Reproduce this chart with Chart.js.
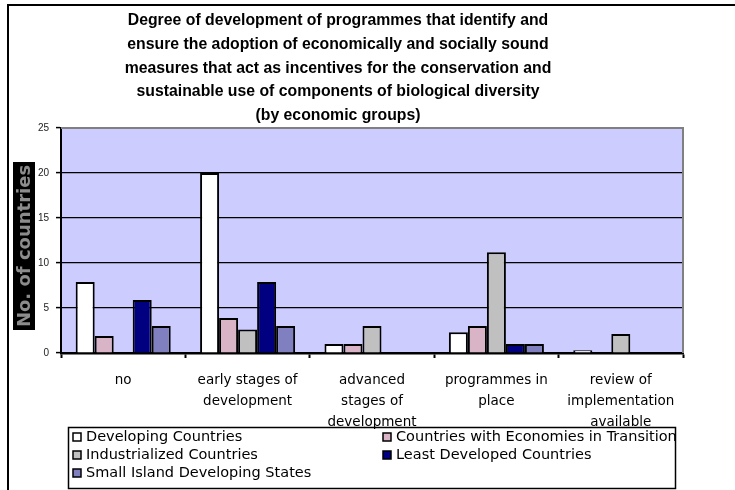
<!DOCTYPE html>
<html>
<head>
<meta charset="utf-8">
<script src="https://cdn.jsdelivr.net/npm/chart.js@4.4.1/dist/chart.umd.min.js"></script>
<style>
  html, body { margin: 0; padding: 0; background: #fff; }
  #wrap { width: 735px; height: 490px; position: relative; }
</style>
</head>
<body>
<div id="wrap"><canvas id="chart"></canvas></div>
<script>
// Stages of programme development (multi-line axis labels)
const categories = [
  ["no"],
  ["early stages of", "development"],
  ["advanced", "stages of", "development"],
  ["programmes in", "place"],
  ["review of", "implementation", "available"]
];

const seriesNames = [
  "Developing Countries",
  "Countries with Economies in Transition",
  "Industrialized Countries",
  "Least Developed Countries",
  "Small Island Developing States"
];

// Number of countries per economic group
const developing     = [7.9, 20, 1, 2.3, 0.3];
const transition     = [1.9, 3.9, 1, 3.0, 0];
const industrialized = [0, 2.6, 3.0, 11.2, 2.1];
const leastDeveloped = [5.9, 7.9, 0, 1.0, 0];
const smallIsland    = [3.0, 3.0, 0, 1.0, 0];

const yTicks = [0, 5, 10, 15, 20, 25];

const titleLines = [
  "Degree of development of programmes that identify and",
  "ensure the adoption of economically and socially sound",
  "measures that act as incentives for the conservation and",
  "sustainable use of components of biological diversity",
  "(by economic groups)"
];
const yTitle = "No. of countries";

const seriesValues = [developing, transition, industrialized, leastDeveloped, smallIsland];
const seriesColors = ["#FFFFFF", "#D9B4C6", "#C0C0C0", "#000080", "#8080C0"];

const datasets = seriesNames.map((name, i) => ({
  label: name,
  data: seriesValues[i],
  backgroundColor: seriesColors[i],
  borderColor: "#000000",
  borderWidth: (c) => (c.raw ? 2 : 0),
  borderSkipped: "start",
  categoryPercentage: 0.764,
  barPercentage: 1.0
}));

const decorations = {
  id: "decorations",
  beforeDraw(chart) {
    const { ctx, chartArea: a } = chart;
    ctx.save();
    ctx.fillStyle = "#FFFFFF";
    ctx.fillRect(0, 0, chart.width, chart.height);
    ctx.fillStyle = "#CCCCFF";
    ctx.fillRect(a.left, a.top, a.right - a.left, a.bottom - a.top);
    ctx.restore();
  },
  beforeDatasetsDraw(chart) {
    const { ctx, chartArea: a } = chart;
    ctx.save();
    ctx.strokeStyle = "#808080";
    ctx.lineWidth = 2;
    ctx.beginPath();
    ctx.moveTo(a.left, a.top);
    ctx.lineTo(a.right, a.top);
    ctx.lineTo(a.right, a.bottom);
    ctx.stroke();
    ctx.restore();
  },
  afterDraw(chart) {
    const { ctx } = chart;
    ctx.save();

    // outer frame (top and left edges)
    ctx.strokeStyle = "#000";
    ctx.lineWidth = 2;
    ctx.beginPath();
    ctx.moveTo(8, 490);
    ctx.lineTo(8, 5);
    ctx.lineTo(735, 5);
    ctx.stroke();

    // title
    ctx.fillStyle = "#000";
    ctx.font = "bold 15.8px 'Liberation Sans', Arial, sans-serif";
    ctx.textAlign = "center";
    ctx.textBaseline = "middle";
    titleLines.forEach((t, i) => ctx.fillText(t, 338, 21 + i * 23.6));

    // y axis title on a black band
    ctx.fillStyle = "#000";
    ctx.fillRect(13, 162, 22, 168);
    ctx.translate(24, 246);
    ctx.rotate(-Math.PI / 2);
    ctx.fillStyle = "#8C8C8C";
    ctx.font = "bold 18px 'DejaVu Sans', sans-serif";
    ctx.fillText(yTitle, 0, 1);
    ctx.setTransform(1, 0, 0, 1, 0, 0);

    // legend box
    ctx.strokeStyle = "#000";
    ctx.lineWidth = 1.5;
    ctx.strokeRect(68.5, 427.5, 607, 61);
    const colX = [73, 383];
    const rowY = [437, 455, 473];
    ctx.font = "14.5px 'DejaVu Sans', sans-serif";
    ctx.textAlign = "left";
    ctx.textBaseline = "middle";
    chart.data.datasets.forEach((ds, i) => {
      const x = colX[i % 2];
      const y = rowY[Math.floor(i / 2)];
      ctx.fillStyle = ds.backgroundColor;
      ctx.fillRect(x, y - 4, 8, 8);
      ctx.lineWidth = 1.5;
      ctx.strokeStyle = "#000";
      ctx.strokeRect(x, y - 4, 8, 8);
      ctx.fillStyle = "#000";
      ctx.fillText(ds.label, x + 13, y);
    });
    ctx.restore();
  }
};

new Chart(document.getElementById("chart"), {
  type: "bar",
  data: { labels: categories, datasets },
  plugins: [decorations],
  options: {
    responsive: true,
    maintainAspectRatio: false,
    animation: false,
    devicePixelRatio: 1,
    layout: { padding: { left: 0, right: 52, top: 128, bottom: 0 } },
    plugins: {
      legend: { display: false },
      title: { display: false },
      tooltip: { enabled: false }
    },
    scales: {
      x: {
        offset: true,
        afterFit(scale) { scale.height = 137; },
        grid: {
          offset: true,
          drawOnChartArea: false,
          drawTicks: true,
          tickLength: 5,
          tickColor: "#000",
          tickWidth: 2
        },
        border: { color: "#000", width: 2.5 },
        ticks: {
          color: "#000",
          font: { family: "'DejaVu Sans', sans-serif", size: 13.5, lineHeight: 1.55 },
          padding: 12,
          maxRotation: 0,
          minRotation: 0,
          autoSkip: false
        }
      },
      y: {
        min: 0,
        max: 25,
        afterFit(scale) { scale.width = 61; },
        afterBuildTicks(scale) { scale.ticks = yTicks.map(v => ({ value: v })); },
        grid: {
          color: (c) => (c.tick && c.tick.value === 25 ? "rgba(0,0,0,0)" : "#000"),
          lineWidth: 1.2,
          drawTicks: true,
          tickLength: 5,
          tickColor: "#000",
          tickWidth: 1.5
        },
        border: { color: "#000", width: 2 },
        ticks: {
          color: "#222",
          font: { family: "'Liberation Sans', Arial, sans-serif", size: 10 },
          padding: 7
        }
      }
    }
  }
});
</script>
</body>
</html>
